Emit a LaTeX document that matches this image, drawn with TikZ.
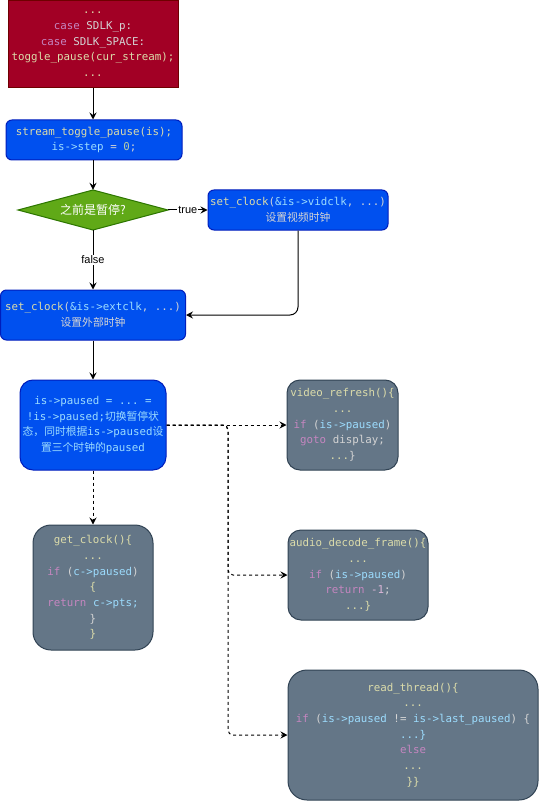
\documentclass[tikz,border=0pt]{standalone}
\usepackage{fontspec}
\setmonofont{DejaVu Sans Mono}
\setsansfont{Liberation Sans}
\newfontfamily\cjk{Noto Sans CJK SC}
\usetikzlibrary{arrows.meta}

\definecolor{redfill}{HTML}{A20025}
\definecolor{redline}{HTML}{6F0000}
\definecolor{bluefill}{HTML}{0050EF}
\definecolor{blueline}{HTML}{001DBC}
\definecolor{greenfill}{HTML}{60A917}
\definecolor{greenline}{HTML}{2D7600}
\definecolor{grayfill}{HTML}{647687}
\definecolor{grayline}{HTML}{314354}
\definecolor{cfn}{HTML}{DCDCAA}
\definecolor{cvar}{HTML}{9CDCFE}
\definecolor{ckw}{HTML}{C586C0}
\definecolor{ctxt}{HTML}{D4D4D4}
\definecolor{cnum}{HTML}{B5CEA8}

% syntax colouring for the code snippets
\newcommand\codefn[1]{\textcolor{cfn}{#1}}
\newcommand\codevar[1]{\textcolor{cvar}{#1}}
\newcommand\codekw[1]{\textcolor{ckw}{#1}}
\newcommand\codenum[1]{\textcolor{cnum}{#1}}

\tikzset{
  code/.style={font=\ttfamily\fontsize{10.8}{15.7}\selectfont, align=center,
    text=ctxt, inner sep=0pt, line width=1pt},
  redbox/.style={code, fill=redfill, draw=redline},
  bluebox/.style={code, fill=bluefill, draw=blueline, rounded corners=6pt},
  graybox/.style={code, fill=grayfill, draw=grayline},
  decidelabel/.style={inner sep=0pt, text=white, font=\cjk\fontsize{12}{14}\selectfont},
  flow/.style={line width=1pt, -{Stealth[length=7pt,width=7pt,inset=2.5pt]}},
  dashflow/.style={flow, dash pattern=on 3pt off 3pt},
  edgelabel/.style={font=\sffamily\fontsize{11}{13}\selectfont, fill=white,
    inner sep=1pt, text=black},
}

\begin{document}
\begin{tikzpicture}[x=1pt,y=-1pt]
\useasboundingbox (0,0) rectangle (539,802);

% key handler
\node[redbox, minimum width=170pt, minimum height=87.5pt] (keys) at (93,44.25)
  {\codefn{...}\\ \codekw{case} SDLK\_p:\\ \codekw{case} SDLK\_SPACE:\\
   \codefn{toggle\_pause(cur\_stream);}\\ \codefn{...}};

\node[bluebox, minimum width=176pt, minimum height=40pt] (toggle) at (94,140)
  {\codefn{stream\_toggle\_pause(is);}\\ \codevar{is->step} = \codenum{0};};

% decision: rhombus drawn first, its label node on top gives the tips as anchors
\path[fill=greenfill, draw=greenline, line width=1pt]
  (93,190) -- (168,210) -- (93,230) -- (18,210) -- cycle;
\node[decidelabel, minimum width=150pt, minimum height=40pt] (waspaused)
  at (93,210) {之前是暂停?};

\node[bluebox, minimum width=180pt, minimum height=40pt] (vidclk) at (298,210)
  {\codefn{set\_clock}(\codevar{\&is->vidclk}, ...)\\ {\cjk 设置视频时钟}};

\node[bluebox, minimum width=185pt, minimum height=50pt] (extclk) at (93,315)
  {\codefn{set\_clock}(\codevar{\&is->extclk}, ...)\\ {\cjk 设置外部时钟}};

\node[bluebox, rounded corners=13pt, text=cvar, minimum width=146pt,
  minimum height=90pt] (paused) at (93,425)
  {is->paused = ... =\\ !is->paused;{\cjk 切换暂停状}\\
   {\cjk 态，同时根据}is->paused{\cjk 设}\\ {\cjk 置三个时钟的}paused};

\node[graybox, rounded corners=13pt, minimum width=111pt, minimum height=90pt]
  (refresh) at (342.5,425)
  {\codefn{video\_refresh()\{}\\ \codefn{...}\\ \codekw{if} (\codevar{is->paused})\\
   \codekw{goto} display;\\ \codefn{...}\}};

\node[graybox, rounded corners=18pt, minimum width=120pt, minimum height=125pt]
  (getclock) at (93,587.5)
  {\codefn{get\_clock()\{}\\ \codefn{...}\\ \codekw{if} (\codevar{c->paused})\\
   \codefn{\{}\\ \codekw{return} \codevar{c->pts;}\\ \}\\ \codefn{\}}};

\node[graybox, rounded corners=13pt, minimum width=140pt, minimum height=90pt]
  (audio) at (358,575)
  {\codefn{audio\_decode\_frame()\{}\\ \codefn{...}\\ \codekw{if} (\codevar{is->paused})\\
   \codekw{return} \textcolor{ckw!60!white}{-1};\\ \codefn{...\}}};

\node[graybox, rounded corners=19pt, minimum width=250pt, minimum height=130pt]
  (readthr) at (413,735)
  {\codefn{read\_thread()\{}\\ \codefn{...}\\
   \codekw{if} (\codevar{is->paused} != \codevar{is->last\_paused}) \{\\
   \codevar{...\}}\\ \codekw{else}\\ \codefn{...}\\ \codefn{\}\}}};

% main flow
\draw[flow] (keys.south) -- (keys.south |- toggle.north);
\draw[flow] (toggle.south -| waspaused) -- (waspaused.north);
\draw[flow] (waspaused.east) -- node[edgelabel] {true} (vidclk.west);
\draw[flow] (waspaused.south) -- node[edgelabel] {false} (extclk.north);
\draw[flow, rounded corners=8pt] (vidclk.south) |- (extclk.east);
\draw[flow] (extclk) -- (paused);

% places that read the paused flag
\coordinate (fork) at (228,425);
\draw[dashflow] (paused.east) -- (refresh.west);
\draw[dashflow, rounded corners=5pt] (paused.east) -- (fork) |- (audio.west);
\draw[dashflow, rounded corners=5pt] (paused.east) -- (fork) |- (readthr.west);
\draw[dashflow] (paused.south) -- (getclock.north);
\end{tikzpicture}
\end{document}
